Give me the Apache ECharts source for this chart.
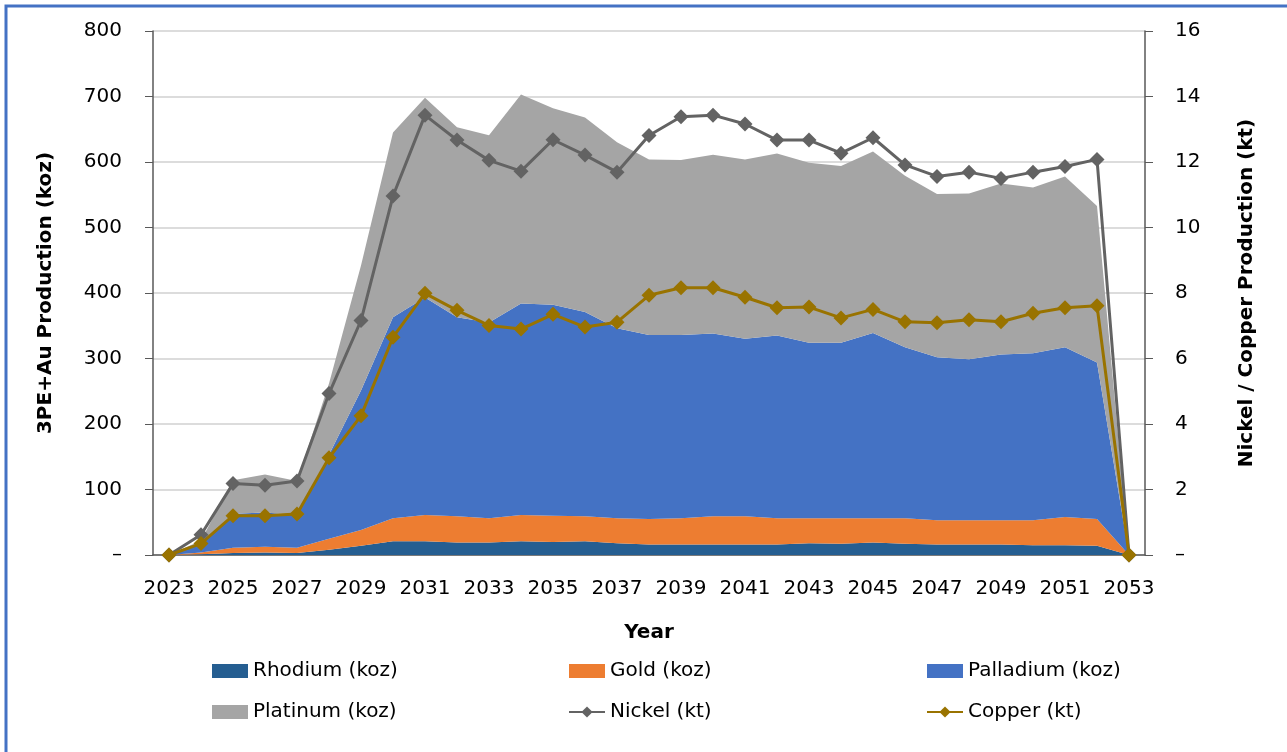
<!DOCTYPE html>
<html>
<head>
<meta charset="utf-8">
<script src="https://cdn.jsdelivr.net/npm/echarts@6/dist/echarts.min.js"></script>
<style>
  html, body { margin: 0; padding: 0; background: #fff; }
  #chart { width: 1287px; height: 752px; }
</style>
</head>
<body>
<div id="chart"></div>
<script>
// years on the x axis
const years = [];
for (let y = 2023; y <= 2053; y++) years.push(String(y));

// koz
const rhodium = [0, 1, 3, 4, 3, 8, 14, 21, 21, 19, 19, 21, 20, 21, 18, 16, 16, 16, 16, 16, 18, 17, 19, 17, 16, 16, 16, 15, 15, 14, 0];
const gold = [0, 3, 8, 8.5, 8, 17, 24, 35, 40, 40, 37, 40, 40, 38, 38, 39, 40, 43, 43, 40, 38, 39, 37, 39, 37, 37, 37, 38, 43, 41, 0];
const palladium = [0, 12, 52, 52.5, 50, 128, 213, 307, 332, 304, 299, 323, 322, 312, 290, 281, 280, 279, 271, 279, 268, 268, 283, 261, 249, 246, 253, 255, 259, 239, 0];
const platinum = [0, 6, 51, 58, 52, 109, 191, 282, 305, 290, 286, 319, 300, 297, 284, 268, 267, 273, 274, 278, 275, 270, 277, 262, 249, 253, 261, 253, 261, 239, 0];

// kt, right axis
const nickel = [0, 0.62, 2.18, 2.13, 2.26, 4.93, 7.16, 10.96, 13.43, 12.67, 12.05, 11.72, 12.68, 12.21, 11.69, 12.81, 13.38, 13.43, 13.16, 12.67, 12.67, 12.27, 12.74, 11.91, 11.56, 11.69, 11.50, 11.69, 11.86, 12.08, 0];
const copper = [0, 0.35, 1.2, 1.2, 1.25, 2.97, 4.25, 6.65, 7.99, 7.47, 7.01, 6.90, 7.35, 6.96, 7.11, 7.93, 8.16, 8.16, 7.87, 7.55, 7.57, 7.24, 7.50, 7.12, 7.09, 7.18, 7.12, 7.38, 7.55, 7.61, 0];

const FONT = "DejaVu Sans";
const chart = echarts.init(document.getElementById("chart"));

function area(name, data, color) {
  return {
    name: name,
    type: "line",
    stack: "pge",
    data: data,
    symbol: "none",
    lineStyle: { width: 0 },
    areaStyle: { color: color, opacity: 1 },
    itemStyle: { color: color },
    z: 2
  };
}

function line(name, data, color) {
  return {
    name: name,
    type: "line",
    yAxisIndex: 1,
    data: data,
    symbol: "diamond",
    symbolSize: 15,
    lineStyle: { width: 3, color: color },
    itemStyle: { color: color },
    z: 5
  };
}

const legendText = { fontFamily: FONT, fontSize: 20, color: "#000" };
function legendCol(left, names) {
  return {
    left: left, top: 656, orient: "vertical", itemGap: 21,
    itemWidth: 36, itemHeight: 14, textStyle: legendText,
    data: names.map(n => n.indexOf("koz") >= 0 ? { name: n, icon: "rect" } : n)
  };
}

const titleStyle = { fontFamily: FONT, fontSize: 20, fontWeight: "bold", color: "#000" };

const option = {
  animation: false,
  backgroundColor: "#fff",
  graphic: [{
    type: "rect",
    shape: { x: 6, y: 6, width: 1300, height: 800 },
    style: { fill: "none", stroke: "#4472C4", lineWidth: 3 }
  }],
  grid: { left: 153, right: 142, top: 31, bottom: 197 },
  legend: [
    legendCol(207, ["Rhodium (koz)", "Platinum (koz)"]),
    legendCol(563, ["Gold (koz)", "Nickel (kt)"]),
    legendCol(921, ["Palladium (koz)", "Copper (kt)"])
  ],
  xAxis: {
    type: "category",
    data: years,
    name: "Year",
    nameLocation: "middle",
    nameGap: 68,
    nameTextStyle: titleStyle,
    axisLine: { lineStyle: { color: "#595959", width: 1.5 } },
    axisTick: { interval: 0, length: 8, lineStyle: { color: "#595959" } },
    axisLabel: { interval: 1, margin: 24, fontFamily: FONT, fontSize: 20, color: "#000" }
  },
  yAxis: [
    {
      type: "value",
      min: 0, max: 800, interval: 100,
      name: "3PE+Au Production (koz)",
      nameLocation: "middle",
      nameGap: 97,
      nameTextStyle: titleStyle,
      axisLine: { show: true, lineStyle: { color: "#595959", width: 1.5 } },
      axisTick: { show: true, length: 8, lineStyle: { color: "#595959" } },
      axisLabel: {
        margin: 31, fontFamily: FONT, fontSize: 20, color: "#000",
        formatter: v => v === 0 ? "–" : v
      },
      splitLine: { lineStyle: { color: "#d0d0d0", width: 1.5 } }
    },
    {
      type: "value",
      min: 0, max: 16, interval: 2,
      name: "Nickel / Copper Production (kt)",
      nameLocation: "middle",
      nameGap: 92,
      nameTextStyle: titleStyle,
      axisLine: { show: true, lineStyle: { color: "#595959", width: 1.5 } },
      axisTick: { show: true, length: 8, lineStyle: { color: "#595959" } },
      axisLabel: {
        margin: 30, fontFamily: FONT, fontSize: 20, color: "#000",
        formatter: v => v === 0 ? "–" : v
      },
      splitLine: { show: false }
    }
  ],
  series: [
    area("Rhodium (koz)", rhodium, "#255E91"),
    area("Gold (koz)", gold, "#ED7D31"),
    area("Palladium (koz)", palladium, "#4472C4"),
    area("Platinum (koz)", platinum, "#A5A5A5"),
    line("Nickel (kt)", nickel, "#636363"),
    line("Copper (kt)", copper, "#997300")
  ]
};

chart.setOption(option);
window.addEventListener("resize", chart.resize);
</script>
</body>
</html>
